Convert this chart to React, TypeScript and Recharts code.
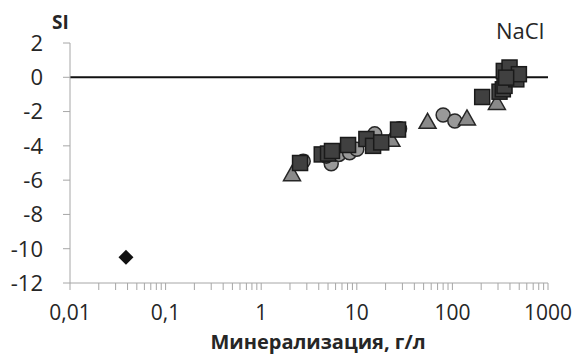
import { ScatterChart, Scatter, XAxis, YAxis, ReferenceLine } from 'recharts';

// Минерализация (г/л) и индекс насыщения SI по галиту
const SQUARE_MIN = [2.55, 4.3, 5.0, 5.5, 8.1, 12.6, 14.8, 18, 27, 205, 311, 337, 351, 345, 396, 466, 496, 365];
const SQUARE_SI = [-5.0, -4.5, -4.45, -4.3, -3.95, -3.6, -4.0, -3.8, -3.05, -1.15, -0.84, -0.7, -0.5, 0.37, 0.57, -0.12, 0.18, -0.02];

const CIRCLE_MIN = [2.75, 5.4, 4.8, 6.5, 8.4, 10, 15.4, 17, 28, 80, 106];
const CIRCLE_SI = [-4.9, -5.05, -4.6, -4.5, -4.4, -4.2, -3.3, -3.8, -3.0, -2.2, -2.55];

const TRIANGLE_MIN = [2.1, 23, 55, 142, 292];
const TRIANGLE_SI = [-5.65, -3.65, -2.6, -2.4, -1.5];

const DIAMOND_MIN = [0.0385];
const DIAMOND_SI = [-10.5];

const X_DECADES = [0.01, 0.1, 1, 10, 100, 1000];
const X_LABELS = ['0,01', '0,1', '1', '10', '100', '1000'];
const MINOR_STEPS = [2, 3, 4, 5, 6, 7, 8, 9];
const Y_TICKS = [2, 0, -2, -4, -6, -8, -10, -12];

const toPoints = (xs: number[], ys: number[]) => xs.map((x, i) => ({ x, y: ys[i] }));

const xTicks: number[] = [];
X_DECADES.forEach((d, i) => {
    xTicks.push(d);
    if (i < X_DECADES.length - 1) MINOR_STEPS.forEach((m) => xTicks.push(+(d * m).toPrecision(3)));
});

const FONT = '"Open Sans", sans-serif';
const AXIS = '#a6a6a6';
const TEXT = '#262626';

function XTick({ x, y, payload }: any) {
    const idx = X_DECADES.findIndex((d) => Math.abs(d - payload.value) < d * 1e-6);
    if (idx < 0) return <g />;
    return (
        <text x={x} y={y} dy="0.71em" textAnchor="middle" fill={TEXT} fontSize={21} fontFamily={FONT}>
            {X_LABELS[idx]}
        </text>
    );
}

const Square = ({ cx, cy }: any) => (
    <rect x={cx - 7.5} y={cy - 7.5} width={15} height={15} fill="#404040" stroke="#1a1a1a" strokeWidth={1.5} />
);
const Circle = ({ cx, cy }: any) => (
    <circle cx={cx} cy={cy} r={7} fill="#999999" stroke="#262626" strokeWidth={1.5} />
);
const Triangle = ({ cx, cy }: any) => (
    <path d={`M${cx},${cy - 8.5}L${cx + 8.5},${cy + 6.5}L${cx - 8.5},${cy + 6.5}Z`} fill="#8a8a8a" stroke="#262626" strokeWidth={1.5} />
);
const Diamond = ({ cx, cy }: any) => (
    <path d={`M${cx},${cy - 7.5}L${cx + 7.5},${cy}L${cx},${cy + 7.5}L${cx - 7.5},${cy}Z`} fill="#111111" />
);

export default function App() {
    return (
        <div style={{ position: 'absolute', left: 0, top: 0, width: 580, height: 361, background: '#fff' }}>
            <ScatterChart width={580} height={361} margin={{ top: 43, right: 32, left: 0, bottom: 0 }}>
                <XAxis
                    dataKey="x"
                    type="number"
                    scale="log"
                    domain={[0.01, 1000]}
                    ticks={xTicks}
                    interval={0}
                    allowDataOverflow
                    height={78}
                    stroke={AXIS}
                    tickSize={7}
                    tickMargin={15}
                    tick={<XTick />}
                />
                <YAxis
                    dataKey="y"
                    type="number"
                    domain={[-12, 2]}
                    ticks={Y_TICKS}
                    interval={0}
                    width={70}
                    stroke={AXIS}
                    tickSize={7}
                    tickMargin={20}
                    tick={{ fill: TEXT, fontSize: 22, fontFamily: FONT }}
                />
                <ReferenceLine y={0} stroke="#111" strokeWidth={2} />
                <Scatter data={toPoints(CIRCLE_MIN, CIRCLE_SI)} shape={<Circle />} isAnimationActive={false} />
                <Scatter data={toPoints(TRIANGLE_MIN, TRIANGLE_SI)} shape={<Triangle />} isAnimationActive={false} />
                <Scatter data={toPoints(SQUARE_MIN, SQUARE_SI)} shape={<Square />} isAnimationActive={false} />
                <Scatter data={toPoints(DIAMOND_MIN, DIAMOND_SI)} shape={<Diamond />} isAnimationActive={false} />
            </ScatterChart>
            <div style={{ position: 'absolute', left: 52, top: 9, fontFamily: FONT, fontWeight: 700, fontSize: 19, color: TEXT }}>
                SI
            </div>
            <div style={{ position: 'absolute', left: 496, top: 15, fontFamily: FONT, fontSize: 22, color: TEXT }}>
                NaCl
            </div>
            <div
                style={{
                    position: 'absolute',
                    left: 79,
                    width: 478,
                    top: 333,
                    lineHeight: '18px',
                    textAlign: 'center',
                    fontFamily: FONT,
                    fontWeight: 700,
                    fontSize: 20,
                    color: TEXT,
                }}
            >
                Минерализация, г/л
            </div>
        </div>
    );
}
